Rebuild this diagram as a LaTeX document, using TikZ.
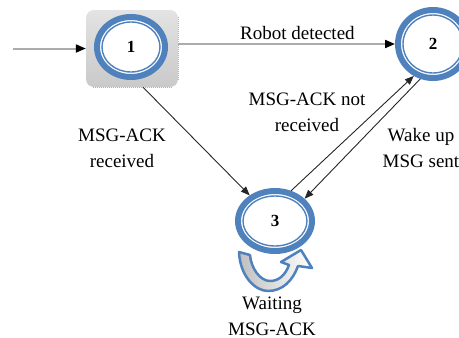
\documentclass[tikz,border=0pt]{standalone}
\usepackage{fontspec}
\setmainfont{Liberation Serif}
\usetikzlibrary{arrows.meta,shapes.geometric,calc}
\definecolor{stateblue}{RGB}{79,129,189}
\tikzset{
  st/.style={ellipse,draw=stateblue,line width=6pt,fill=white,inner sep=0pt,font=\fontsize{17}{17}\selectfont\bfseries},
  ring/.style={draw=stateblue,line width=1.4pt},
  startbox/.style={rectangle,rounded corners=8pt,minimum width=92pt,minimum height=77pt,top color=gray!22,bottom color=gray!42,draw=none},
  arr/.style={-{Triangle[length=9pt,width=7pt]},line width=0.9pt,black!85},
  garr/.style={-{Triangle[length=10pt,width=8pt,color=black]},line width=2pt,gray!65},
  lbl/.style={font=\fontsize{19}{26}\selectfont,align=center,inner sep=0pt,text=black},
}
\begin{document}
\begin{tikzpicture}[x=1pt,y=-1pt]
 \useasboundingbox (0,0) rectangle (459,338);
 % start state sits in a grey box
 \node[startbox] (b1) at (132,48.5) {};
 \draw[gray!60,densely dotted,line width=1pt] ([xshift=7pt]b1.south west) -- ([xshift=-7pt]b1.south east);
 \draw[gray!60,densely dotted,line width=1pt] ([yshift=-7pt]b1.north east) -- ([yshift=7pt]b1.south east);
 \node[st,minimum width=68pt,minimum height=60pt] (s1) at (131,47) {1};
 \node[st,minimum width=70pt,minimum height=68pt] (s2) at (433,44) {2};
 \node[st,minimum width=74pt,minimum height=60pt] (s3) at (275,221) {3};
 \foreach \n/\rx/\ry in {s1/29/25,s2/30/29,s3/32/25}
  \draw[ring] (\n.center) ellipse [x radius=\rx pt,y radius=\ry pt];
 % transitions
 \coordinate (in) at (13,48.5);
 \draw[garr] (in) -- (b1);
 \draw[garr] (b1.east |- s2) -- node[lbl,pos=0.55,above=3pt] {Robot detected} (s2);
 \draw[arr] ($(b1.south)+(11,0)$) -- (s3);
 \draw[arr] (s3.62) -- (s2.239);
 \draw[arr] (s2.250) -- (s3.37);
 \node[lbl] (l13) at (122,148) {MSG-ACK\\received};
 \node[lbl] (l32) at (307,112) {MSG-ACK not\\received};
 \node[lbl] (l23) at (421,148) {Wake up\\MSG sent};
 % self loop on state 3
 \draw[stateblue,line width=2.5pt,line join=round,left color=gray!50,right color=white]
  (239,252) .. controls (240,276) and (255,291) .. (268,291) .. controls (283,291) and (293,280) .. (298,266)
  -- (312,268) -- (301,250) -- (281,262) -- (289,265)
  .. controls (285,276) and (278,281) .. (270,281) .. controls (260,281) and (251,268) .. (250,255) -- cycle;
 \node[lbl] (l33) at (272,316) {Waiting\\MSG-ACK};
\end{tikzpicture}
\end{document}
